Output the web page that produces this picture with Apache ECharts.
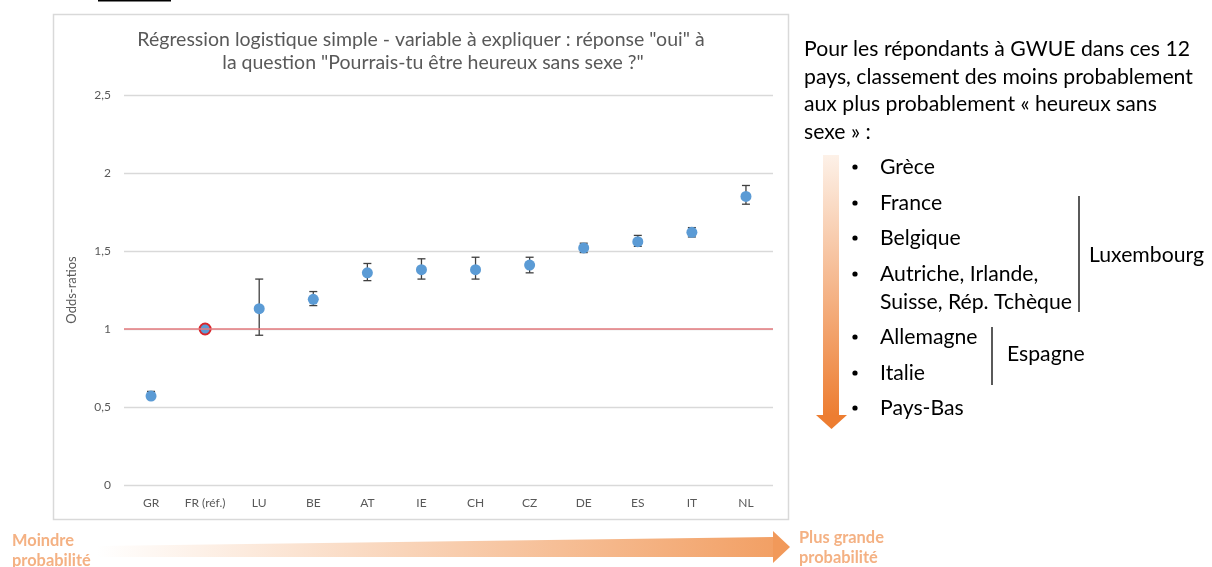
<!DOCTYPE html>
<html>
<head>
<meta charset="utf-8">
<script src="https://cdn.jsdelivr.net/npm/echarts@6/dist/echarts.min.js"></script>
<style>
html,body{margin:0;padding:0;background:#fff;}
#main{width:1212px;height:567px;}
</style>
</head>
<body>
<div id="main"></div>
<script>
// ---- data ----
const categories = ['GR','FR (réf.)','LU','BE','AT','IE','CH','CZ','DE','ES','IT','NL'];
const oddsRatios = [0.57,1.00,1.13,1.19,1.36,1.38,1.38,1.41,1.52,1.56,1.62,1.85];
const ciLow  = [0.55,null,0.96,1.15,1.31,1.32,1.32,1.36,1.49,1.53,1.59,1.80];
const ciHigh = [0.60,null,1.32,1.24,1.42,1.45,1.46,1.46,1.55,1.60,1.65,1.92];
const yTicks = [0,0.5,1,1.5,2,2.5];
const referenceIndex = 1;
const referenceLevel = 1;
const chartTitleLines = ['Régression logistique simple - variable à expliquer : réponse "oui" à',
  'la question "Pourrais-tu être heureux sans sexe ?"'];
const yAxisName = 'Odds-ratios';
const introLines = ['Pour les répondants à GWUE dans ces 12','pays, classement des moins probablement',
  'aux plus probablement « heureux sans','sexe » :'];
const rankingItems = ['Grèce','France','Belgique','Autriche, Irlande,','Suisse, Rép. Tchèque','Allemagne','Italie','Pays-Bas'];
const bulletOnItem = [true,true,true,true,false,true,true,true];
const groupLabels = ['Luxembourg','Espagne'];
const arrowLabelsLeft = ['Moindre','probabilité'];
const arrowLabelsRight = ['Plus grande','probabilité'];

// ---- helpers ----
const FONT = 'Lato, "Open Sans", sans-serif';
const cv = document.createElement('canvas').getContext('2d');
function fitSize(text, target, weight){
  cv.font = (weight||'normal') + ' 100px ' + FONT;
  const w = cv.measureText(text).width;
  return Math.round(100*target/w*10)/10;
}
const introSize = fitSize(rankingItems[4], 192);
const titleSize = fitSize(chartTitleLines[0], 567);
const orangeSize = fitSize(arrowLabelsRight[0], 85, 'bold');

const chart = echarts.init(document.getElementById('main'));

const errData = [];
categories.forEach((c,i)=>{ if(ciLow[i]!=null) errData.push([i, ciLow[i], ciHigh[i]]); });

const scatterData = oddsRatios.map((v,i)=> i===referenceIndex ?
  {value:[i,v], itemStyle:{color:'#5b9bd5', borderColor:'#d9262c', borderWidth:2}} : [i,v]);

const graphics = [];
// chart frame
graphics.push({type:'rect', shape:{x:53.5,y:14.5,width:735,height:505}, style:{fill:'none',stroke:'#d9d9d9',lineWidth:1.5}, z:-10});
// cut-off underline at top
graphics.push({type:'rect', shape:{x:98,y:0,width:73,height:1.5}, style:{fill:'#000'}});
// chart title
graphics.push({type:'text', x:421, y:40, style:{text:chartTitleLines[0], fill:'#595959', font:'normal '+titleSize+'px '+FONT, textAlign:'center', textVerticalAlign:'middle'}});
graphics.push({type:'text', x:433, y:63, style:{text:chartTitleLines[1], fill:'#595959', font:'normal '+titleSize+'px '+FONT, textAlign:'center', textVerticalAlign:'middle'}});
// intro text
const introY = [49,77,104,132];
introLines.forEach((t,i)=>graphics.push({type:'text', x:804, y:introY[i], style:{text:t, fill:'#000', font:'normal '+introSize+'px '+FONT, textVerticalAlign:'middle'}}));
// ranking list
const rowY = [167,203,238,274,302,337,373,408];
rankingItems.forEach((t,i)=>{
  if(bulletOnItem[i]) graphics.push({type:'circle', shape:{cx:855,cy:rowY[i],r:2.6}, style:{fill:'#000'}});
  graphics.push({type:'text', x:880, y:rowY[i], style:{text:t, fill:'#000', font:'normal '+introSize+'px '+FONT, textVerticalAlign:'middle'}});
});
// group brackets
graphics.push({type:'line', shape:{x1:1079,y1:196,x2:1079,y2:312}, style:{stroke:'#000',lineWidth:1.3}});
graphics.push({type:'text', x:1089, y:255, style:{text:groupLabels[0], fill:'#000', font:'normal '+introSize+'px '+FONT, textVerticalAlign:'middle'}});
graphics.push({type:'line', shape:{x1:992,y1:327,x2:992,y2:385}, style:{stroke:'#000',lineWidth:1.3}});
graphics.push({type:'text', x:1007, y:354, style:{text:groupLabels[1], fill:'#000', font:'normal '+introSize+'px '+FONT, textVerticalAlign:'middle'}});
// vertical gradient arrow
graphics.push({type:'rect', shape:{x:823,y:155,width:16,height:261},
  style:{fill:new echarts.graphic.LinearGradient(0,0,0,1,[{offset:0,color:'#fdf1e8'},{offset:1,color:'#ed7d31'}])}});
graphics.push({type:'polygon', shape:{points:[[816,415],[847,415],[831.5,429]]}, style:{fill:'#ed7d31'}});
// horizontal gradient arrow
graphics.push({type:'polygon', shape:{points:[[97,546],[773,537],[773,557],[97,557]]},
  style:{fill:new echarts.graphic.LinearGradient(0,0,1,0,[{offset:0,color:'rgba(255,255,255,1)'},{offset:0.3,color:'#fbe3d1'},{offset:1,color:'#f2a065'}])}});
graphics.push({type:'polygon', shape:{points:[[773,531],[790,547],[773,563]]}, style:{fill:'#f1995a'}});
// orange labels
arrowLabelsLeft.forEach((t,i)=>graphics.push({type:'text', x:12, y:541+i*20, style:{text:t, fill:'#f4b183', font:'bold '+orangeSize+'px '+FONT, textVerticalAlign:'middle'}}));
arrowLabelsRight.forEach((t,i)=>graphics.push({type:'text', x:799, y:538+i*20, style:{text:t, fill:'#f4b183', font:'bold '+orangeSize+'px '+FONT, textVerticalAlign:'middle'}}));

const option = {
  animation:false,
  backgroundColor:'#ffffff',
  textStyle:{fontFamily:FONT},
  grid:{left:124, right:439, top:95, bottom:82},
  xAxis:{type:'category', data:categories, boundaryGap:true,
    axisLine:{show:false}, axisTick:{show:false},
    axisLabel:{color:'#595959', fontSize:12, margin:12, interval:0}},
  yAxis:{type:'value', min:yTicks[0], max:yTicks[yTicks.length-1], interval:0.5,
    name:yAxisName, nameLocation:'middle', nameRotate:90, nameGap:46,
    nameTextStyle:{color:'#595959', fontSize:13},
    axisLine:{show:false}, axisTick:{show:false},
    axisLabel:{color:'#595959', fontSize:12, margin:13, formatter:v=>String(v).replace('.',',')},
    splitLine:{lineStyle:{color:'#d9d9d9', width:1.3}}},
  series:[
    {type:'custom', z:2, data:errData,
      renderItem:function(params, api){
        const x = api.value(0);
        const lo = api.coord([x, api.value(1)]);
        const hi = api.coord([x, api.value(2)]);
        const hw = 4;
        const st = {stroke:'#404040', lineWidth:1.3};
        return {type:'group', children:[
          {type:'line', shape:{x1:lo[0],y1:lo[1],x2:hi[0],y2:hi[1]}, style:st},
          {type:'line', shape:{x1:lo[0]-hw,y1:lo[1],x2:lo[0]+hw,y2:lo[1]}, style:st},
          {type:'line', shape:{x1:hi[0]-hw,y1:hi[1],x2:hi[0]+hw,y2:hi[1]}, style:st}
        ]};
      }},
    {type:'scatter', z:3, data:scatterData, symbolSize:11, itemStyle:{color:'#5b9bd5', opacity:1},
      markLine:{silent:true, symbol:['none','none'], label:{show:false},
        lineStyle:{color:'#e57b7f', width:1.5, type:'solid'},
        data:[{yAxis:referenceLevel}]}}
  ],
  graphic:graphics
};
chart.setOption(option);
</script>
</body>
</html>
